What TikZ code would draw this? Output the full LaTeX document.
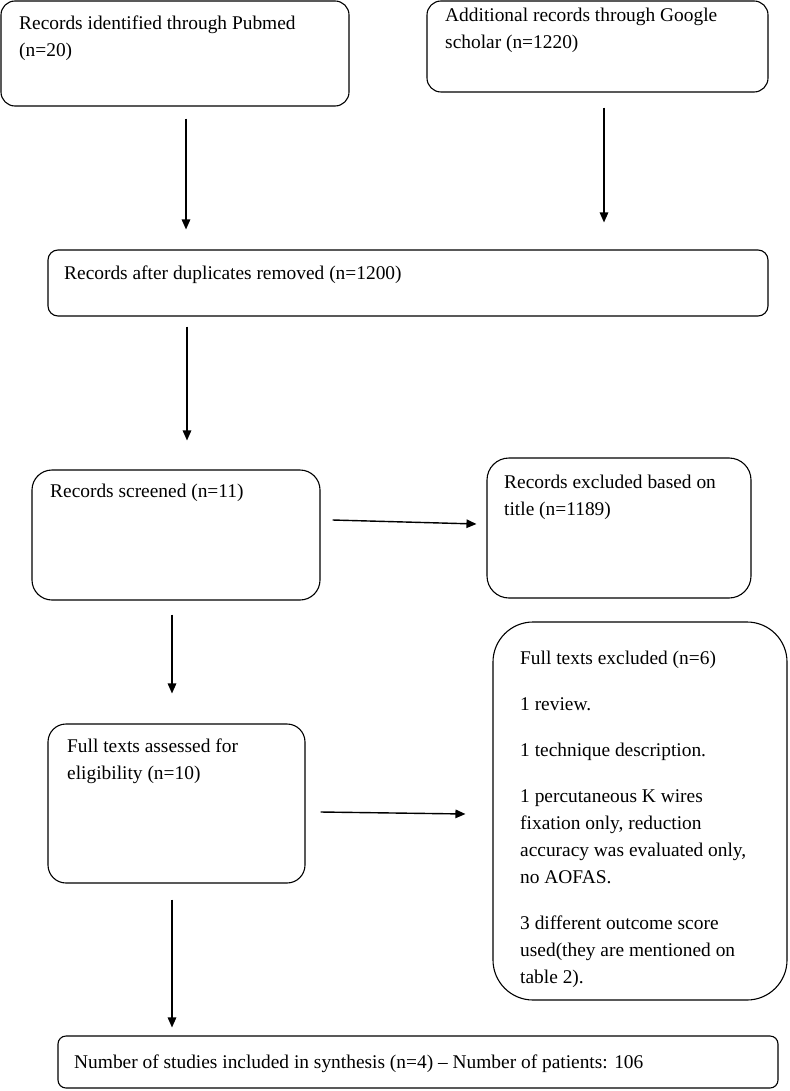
\documentclass[tikz,border=0pt]{standalone}
\usepackage{fontspec}
\setmainfont{Liberation Serif}
\usetikzlibrary{arrows.meta}
\tikzset{
  box/.style={draw=black, line width=1.1pt, inner sep=0pt},
  txt/.style={anchor=base west, inner sep=0pt, font=\fontsize{19.4}{27}\selectfont},
  arr/.style={line width=1.4pt, -{Triangle[length=10pt,width=8.5pt]}}
}
\newcommand{\lines}[1]{\begin{tabular}[t]{@{}l@{}}#1\end{tabular}}
\begin{document}
\begin{tikzpicture}[x=1pt,y=1pt]
\useasboundingbox (0,0) rectangle (789,-1091);
% boxes
\node[box, minimum width=348, minimum height=105, rounded corners=14] (b1) at (175,-53.5) {};
\node[box, minimum width=341, minimum height=91, rounded corners=14] (b2) at (597.5,-46.5) {};
\node[box, minimum width=720, minimum height=66, rounded corners=10] (b3) at (408,-283) {};
\node[box, minimum width=288, minimum height=130, rounded corners=20] (b4) at (176,-535) {};
\node[box, minimum width=264, minimum height=140, rounded corners=22] (b5) at (619,-528) {};
\node[box, minimum width=294, minimum height=378, rounded corners=40] (b6) at (640,-811) {};
\node[box, minimum width=257, minimum height=159, rounded corners=18] (b7) at (176.5,-803.5) {};
\node[box, minimum width=720, minimum height=52, rounded corners=8] (b8) at (418,-1062) {};
% texts
\node[txt] (t1) at (19,-30) {\lines{Records identified through Pubmed\\(n=20)}};
\node[txt] (t2) at (445,-22) {\lines{Additional records through Google\\scholar (n=1220)}};
\node[txt] (t3) at (64,-279) {Records after duplicates removed (n=1200)};
\node[txt] (t4) at (50,-497) {Records screened (n=11)};
\node[txt] (t5) at (504,-488) {\lines{Records excluded based on\\title (n=1189)}};
\node[txt] (t6) at (520,-664) {\lines{Full texts excluded (n=6)\\[19pt]1 review.\\[19pt]1 technique description.\\[19pt]1 percutaneous K wires\\fixation only, reduction\\accuracy was evaluated only,\\no AOFAS.\\[19pt]3 different outcome score\\used(they are mentioned on\\table 2).}};
\node[txt] (t7) at (67,-752) {\lines{Full texts assessed for\\eligibility (n=10)}};
\node[txt] (t8) at (74,-1068) {Number of studies included in synthesis (n=4) – Number of patients: 106};
% arrows
\draw[arr] ([shift={(11,-12)}]b1.south) -- ([shift={(-222,20)}]b3.north);
\draw[arr] ([shift={(6.5,-15)}]b2.south) -- ([shift={(196,27)}]b3.north);
\draw[arr] ([shift={(-221,-10)}]b3.south) -- ([shift={(11,29)}]b4.north);
\draw[arr] ([shift={(12,15)}]b4.east) -- ([shift={(-10,4)}]b5.west);
\draw[arr] ([shift={(-4,-14)}]b4.south) -- ([shift={(-4.5,30)}]b7.north);
\draw[arr] ([shift={(15,-8.5)}]b7.east) -- ([shift={(-27,-3)}]b6.west);
\draw[arr] ([shift={(-4.5,-16)}]b7.south) -- ([shift={(-246,8)}]b8.north);
\end{tikzpicture}
\end{document}
